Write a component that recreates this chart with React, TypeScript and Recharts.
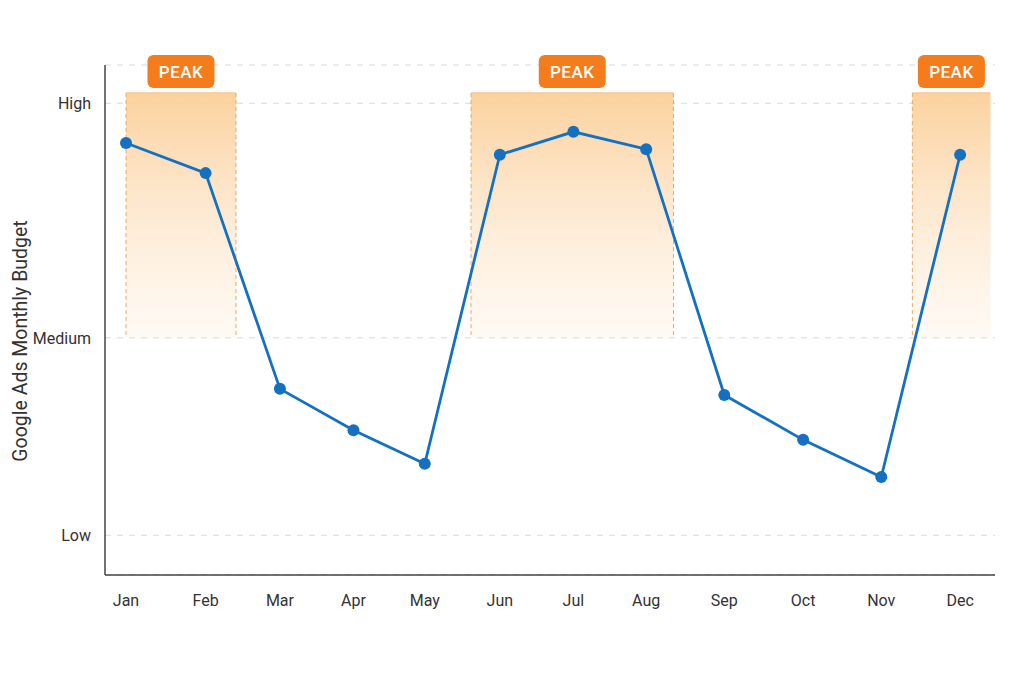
import { CartesianGrid, Label, Line, LineChart, ReferenceArea, XAxis, YAxis } from "recharts";

const months = ["Jan", "Feb", "Mar", "Apr", "May", "Jun", "Jul", "Aug", "Sep", "Oct", "Nov", "Dec"];
// month positions along the x axis (month-index units)
const monthPos = [0, 1.05, 2.03, 3.0, 3.94, 4.93, 5.9, 6.86, 7.89, 8.93, 9.96, 11];
const budget = [84.7, 78.8, 36.5, 28.4, 21.8, 82.4, 86.9, 83.5, 35.3, 26.5, 19.2, 82.4];
const levelTicks = [7.8, 46.5, 92.5];
const levelLabels = ["Low", "Medium", "High"];
// peak windows in month-index units
const peakStart = [0, 4.55, 10.37];
const peakEnd = [1.45, 7.22, 11.4];
const peakTop = 94.5;
const peakBottom = 46.5;

const data = months.map((m, i) => ({ pos: monthPos[i], month: m, budget: budget[i] }));

const font = "Roboto, 'Noto Sans', sans-serif";
const blue = "#1570c2";
const orange = "#f47c1c";

function PeakShape(props: any) {
  const { x, y, width, height, closed } = props;
  return (
    <g>
      <rect x={x} y={y} width={width} height={height} fill="url(#peakFill)" />
      <line x1={x} y1={y} x2={x + width} y2={y} stroke="#f7c890" strokeWidth={1.5} />
      <line x1={x} y1={y} x2={x} y2={y + height} stroke="#f0a860" strokeDasharray="4 3" />
      {closed && <line x1={x + width} y1={y} x2={x + width} y2={y + height} stroke="#f0a860" strokeDasharray="4 3" />}
    </g>
  );
}

function PeakBadge(props: any) {
  const { viewBox } = props;
  const cx = viewBox.x + viewBox.width / 2;
  const top = viewBox.y - 38;
  return (
    <g>
      <rect x={cx - 33.5} y={top} width={67} height={33} rx={6} fill={orange} />
      <text x={cx} y={top + 17} fill="#fff" fontSize={17} fontWeight={500} textAnchor="middle" dominantBaseline="central" fontFamily={font} letterSpacing={0.5}>
        PEAK
      </text>
    </g>
  );
}

export default function App() {
  return (
    <div style={{ position: "fixed", left: 0, top: 0, width: 1024, height: 683, background: "#fff" }}>
      <LineChart width={1024} height={683} data={data} margin={{ top: 65, right: 29, bottom: 78, left: 0 }}>
        <defs>
          <linearGradient id="peakFill" x1="0" y1="0" x2="0" y2="1">
            <stop offset="0%" stopColor="#fbcf98" stopOpacity={0.95} />
            <stop offset="100%" stopColor="#fde9d2" stopOpacity={0.25} />
          </linearGradient>
        </defs>
        <CartesianGrid vertical={false} stroke="#d9d9d9" strokeDasharray="6 6" />
        <XAxis
          type="number"
          dataKey="pos"
          domain={[-0.277, 11.46]}
          ticks={monthPos}
          tickFormatter={(v: number) => months[monthPos.indexOf(v)]}
          height={30}
          tickLine={false}
          tickSize={0}
          tickMargin={20}
          axisLine={{ stroke: "#444", strokeWidth: 1.5 }}
          tick={{ fill: "#333", fontSize: 16, fontFamily: font }}
        />
        <YAxis
          type="number"
          domain={[0, 100]}
          ticks={levelTicks}
          tickFormatter={(v: number) => levelLabels[levelTicks.indexOf(v)]}
          width={105}
          tickLine={false}
          tickSize={0}
          tickMargin={14}
          axisLine={{ stroke: "#444", strokeWidth: 1.5 }}
          tick={{ fill: "#333", fontSize: 16, fontFamily: font }}
        >
          <Label
            content={(p: any) => {
              const cy = p.viewBox.y + p.viewBox.height / 2 + 21;
              return (
                <text x={20} y={cy} transform={`rotate(-90 20 ${cy})`} textAnchor="middle" dominantBaseline="central" fill="#333" fontSize={19.5} fontFamily={font}>
                  Google Ads Monthly Budget
                </text>
              );
            }}
          />
        </YAxis>
        {peakStart.map((s, i) => (
          <ReferenceArea
            key={i}
            x1={s}
            x2={peakEnd[i]}
            y1={peakBottom}
            y2={peakTop}
            ifOverflow="visible"
            shape={(p: any) => <PeakShape {...p} closed={peakEnd[i] < months.length - 1} />}
            label={<PeakBadge />}
          />
        ))}
        <Line
          type="linear"
          dataKey="budget"
          stroke={blue}
          strokeWidth={2.8}
          dot={{ r: 6, fill: blue, stroke: "none" }}
          activeDot={false}
          isAnimationActive={false}
        />
      </LineChart>
    </div>
  );
}
